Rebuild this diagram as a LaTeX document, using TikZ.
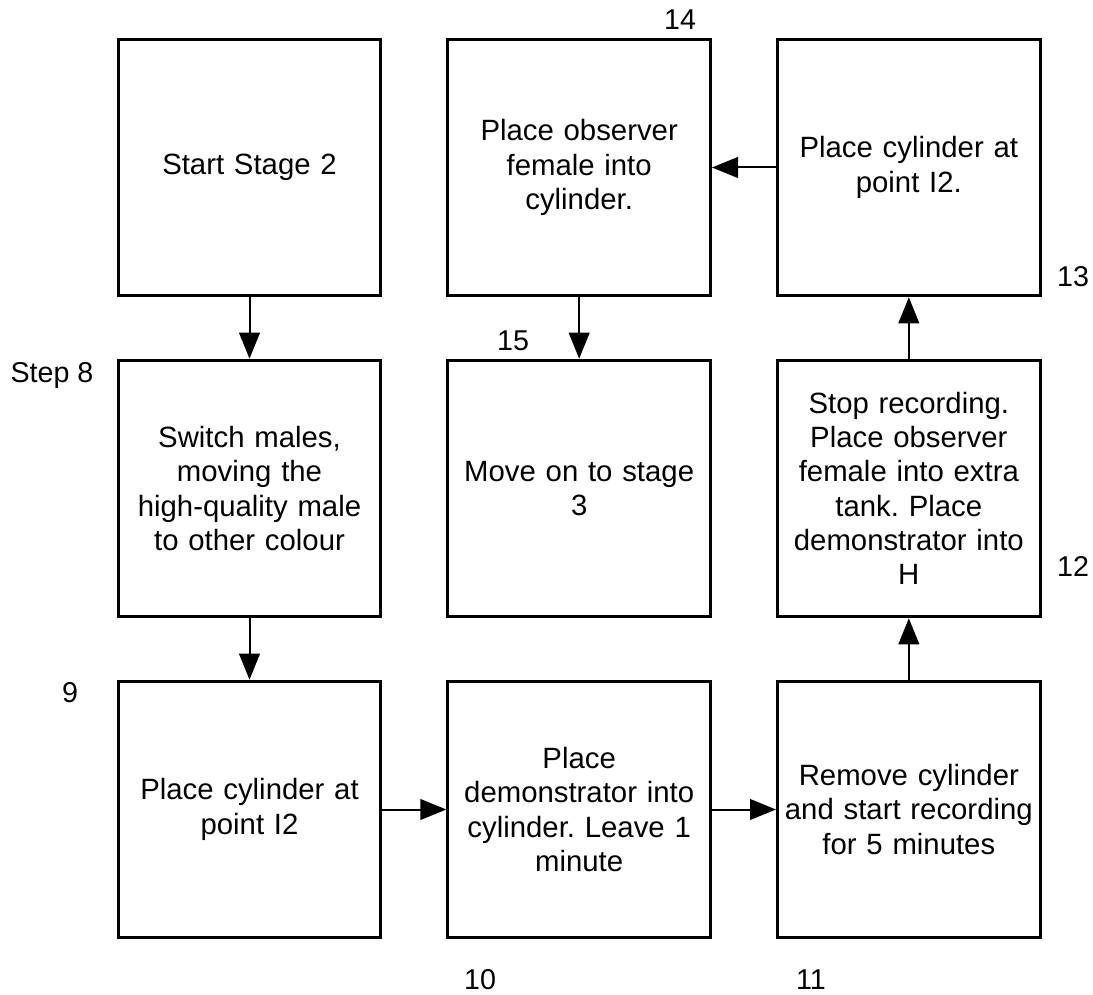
\documentclass[tikz,border=0pt]{standalone}
\usepackage{fontspec}
\setmainfont{Liberation Sans}
\usepackage{tikz}
\usetikzlibrary{arrows.meta,positioning}
\frenchspacing

\begin{document}
\begin{tikzpicture}[
				x=0.75pt, y=-0.75pt,
				node distance=46pt and 48pt,
				box/.style={rectangle, draw=black, line width=2.25pt, fill=white,
					minimum width=197pt, minimum height=192.5pt, inner sep=0pt,
					text width=194pt, align=center, font=\fontsize{22}{25.7}\selectfont},
				steplbl/.style={font=\fontsize{21.5}{25.7}\selectfont, inner sep=0pt},
				arrow/.style={-{Triangle[length=19.5pt,width=15.5pt]}, line width=1.5pt}
				]
				\useasboundingbox (0,0) rectangle (1093,995);
				\node[box] (start) at (249.5,167.5) {Start Stage 2};
				\node[box, below=of start] (switch)
				{Switch males,\\ moving the\\ high-quality male\\ to other colour};
				\node[box, below=of switch] (placeA) {Place cylinder at\\ point I2};
				\node[box, right=of placeA] (demo)
				{Place\\ demonstrator into\\ cylinder. Leave 1\\ minute};
				\node[box, right=of demo] (remove)
				{Remove cylinder\\ and start recording\\ for 5 minutes};
				\node[box, above=of remove] (stop)
				{Stop recording.\\ Place observer\\ female into extra\\ tank. Place\\ demonstrator into\\ H};
				\node[box, above=of stop] (placeB) {Place cylinder at\\ point I2.};
				\node[box, left=of placeB] (observer)
				{Place observer\\ female into\\ cylinder.};
				\node[box, below=of observer] (moveon) {Move on to stage\\ 3};
				% step numbers
				\node[steplbl] (n8) at (52,375) {Step 8};
				\node[steplbl] (n9) at (70,693) {9};
				\node[steplbl] (n10) at (480,980) {10};
				\node[steplbl] (n11) at (811,980) {11};
				\node[steplbl] (n12) at (1073,566) {12};
				\node[steplbl] (n13) at (1073,277) {13};
				\node[steplbl] (n14) at (680,20) {14};
				\node[steplbl] (n15) at (513,341) {15};
				\draw[arrow] (start) -- (switch);
				\draw[arrow] (switch) -- (placeA);
				\draw[arrow] (placeA) -- (demo);
				\draw[arrow] (demo) -- (remove);
				\draw[arrow] (remove) -- (stop);
				\draw[arrow] (stop) -- (placeB);
				\draw[arrow] (placeB) -- (observer);
				\draw[arrow] (observer) -- (moveon);
			\end{tikzpicture}
\end{document}
